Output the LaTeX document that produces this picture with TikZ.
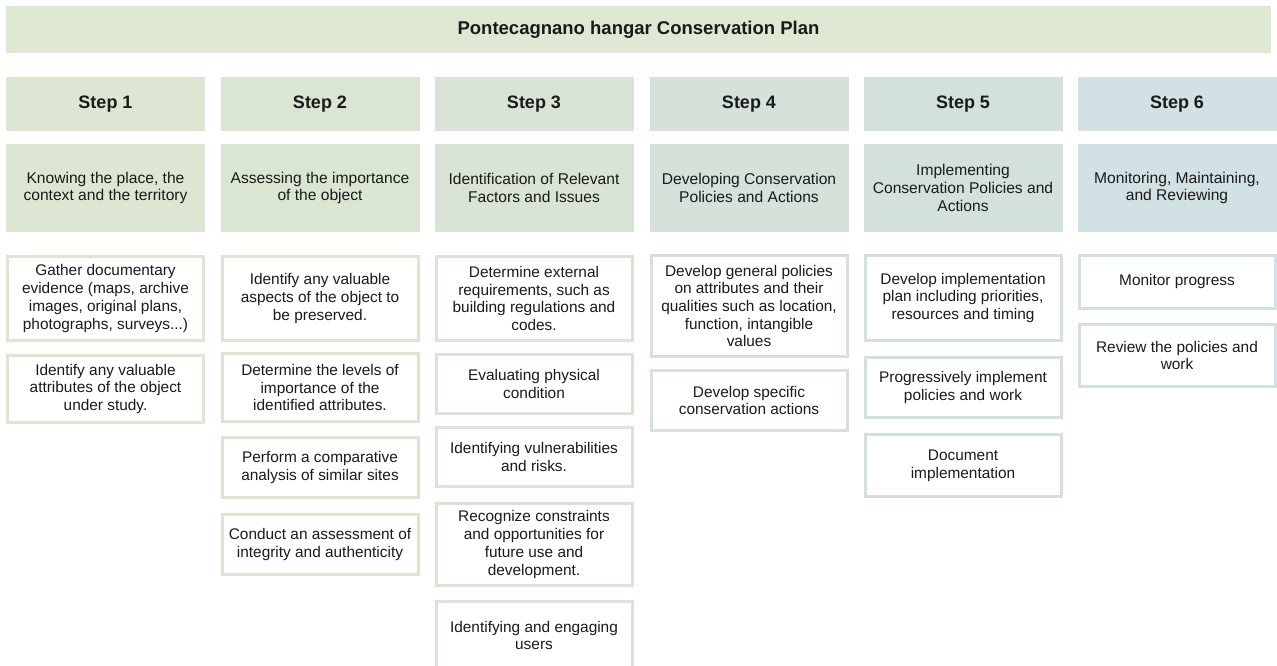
\documentclass[tikz,border=0pt]{standalone}
\usepackage{fontspec}
\setmainfont{Liberation Sans}
\definecolor{cT}{HTML}{DFE8D3}
\definecolor{cA}{HTML}{DDE6D2}
\definecolor{cB}{HTML}{DBE5D4}
\definecolor{cC}{HTML}{D9E4D6}
\definecolor{cD}{HTML}{D6E1D9}
\definecolor{cE}{HTML}{D4E0DD}
\definecolor{cF}{HTML}{D3E0E4}
\definecolor{txt}{HTML}{1A1A1A}
\tikzset{
  x=1pt,y=-1pt,
  titlebox/.style={fill=cT, draw=none, minimum width=1265pt, minimum height=47pt, inner sep=0pt,
    font=\fontsize{18.5}{21}\selectfont\bfseries, text=txt},
  headbox/.style={fill=#1, draw=none, minimum width=199pt, minimum height=54pt, inner sep=0pt,
    font=\fontsize{18}{21}\selectfont\bfseries, text=txt},
  subbox/.style={fill=#1, draw=none, minimum width=199pt, minimum height=88pt, inner sep=0pt,
    align=center, font=\fontsize{15.6}{17.7}\selectfont, text=txt},
  detail/.style={fill=white, draw=#1, line width=3pt, minimum width=196pt, inner sep=0pt,
    align=center, font=\fontsize{15.4}{17.7}\selectfont, text=txt},
}
\begin{document}
\begin{tikzpicture}
\useasboundingbox (0,0) rectangle (1277,666);
\begin{scope}
\clip (0,0) rectangle (1277,666);
\node[titlebox] (title) at (638.5,29.5) {Pontecagnano hangar Conservation Plan};

% headers
\node[headbox=cA] (h1) at (105.5,104) {Step 1};
\node[headbox=cB] (h2) at (320,104) {Step 2};
\node[headbox=cC] (h3) at (534,104) {Step 3};
\node[headbox=cD] (h4) at (749,104) {Step 4};
\node[headbox=cE] (h5) at (963,104) {Step 5};
\node[headbox=cF] (h6) at (1177,104) {Step 6};

% subtitles
\node[subbox=cA] (s1) at (105.5,188) {Knowing the place, the\\context and the territory};
\node[subbox=cB] (s2) at (320,188) {Assessing the importance\\of the object};
\node[subbox=cC] (s3) at (534,188) {Identification of Relevant\\Factors and Issues};
\node[subbox=cD] (s4) at (749,188) {Developing Conservation\\Policies and Actions};
\node[subbox=cE] (s5) at (963,188) {Implementing\\Conservation Policies and\\Actions};
\node[subbox=cF] (s6) at (1177,188) {Monitoring, Maintaining,\\and Reviewing};

% column 1
\node[detail=cA, minimum height=84pt] (a1) at (105.5,298.5) {Gather documentary\\evidence (maps, archive\\images, original plans,\\photographs, surveys...)};
\node[detail=cA, minimum height=67pt] (a2) at (105.5,389) {Identify any valuable\\attributes of the object\\under study.};

% column 2
\node[detail=cB, minimum height=84pt] (b1) at (320,298.5) {Identify any valuable\\aspects of the object to\\be preserved.};
\node[detail=cB, minimum height=68pt] (b2) at (320,387.5) {Determine the levels of\\importance of the\\identified attributes.};
\node[detail=cB, minimum height=60pt] (b3) at (320,467.5) {Perform a comparative\\analysis of similar sites};
\node[detail=cB, minimum height=60pt] (b4) at (320,544.5) {Conduct an assessment of\\integrity and authenticity};

% column 3
\node[detail=cC, minimum height=84pt] (c1) at (534,298.5) {Determine external\\requirements, such as\\building regulations and\\codes.};
\node[detail=cC, minimum height=59pt] (c2) at (534,384) {Evaluating physical\\condition};
\node[detail=cC, minimum height=59pt] (c3) at (534,457) {Identifying vulnerabilities\\and risks.};
\node[detail=cC, minimum height=82pt] (c4) at (534,544.5) {Recognize constraints\\and opportunities for\\future use and\\development.};
\node[detail=cC, minimum height=68pt] (c5) at (534,635.5) {Identifying and engaging\\users};

% column 4
\node[detail=cD, minimum height=101pt] (d1) at (749,306) {Develop general policies\\on attributes and their\\qualities such as location,\\function, intangible\\values};
\node[detail=cD, minimum height=60pt] (d2) at (749,400.5) {Develop specific\\conservation actions};

% column 5
\node[detail=cE, minimum height=85pt] (e1) at (963,298) {Develop implementation\\plan including priorities,\\resources and timing};
\node[detail=cE, minimum height=60pt] (e2) at (963,387.5) {Progressively implement\\policies and work};
\node[detail=cE, minimum height=62pt] (e3) at (963,465.5) {Document\\implementation};

% column 6
\node[detail=cF, minimum height=53pt] (f1) at (1177,282) {Monitor progress};
\node[detail=cF, minimum height=62pt] (f2) at (1177,355.5) {Review the policies and\\work};
\end{scope}
\end{tikzpicture}
\end{document}
